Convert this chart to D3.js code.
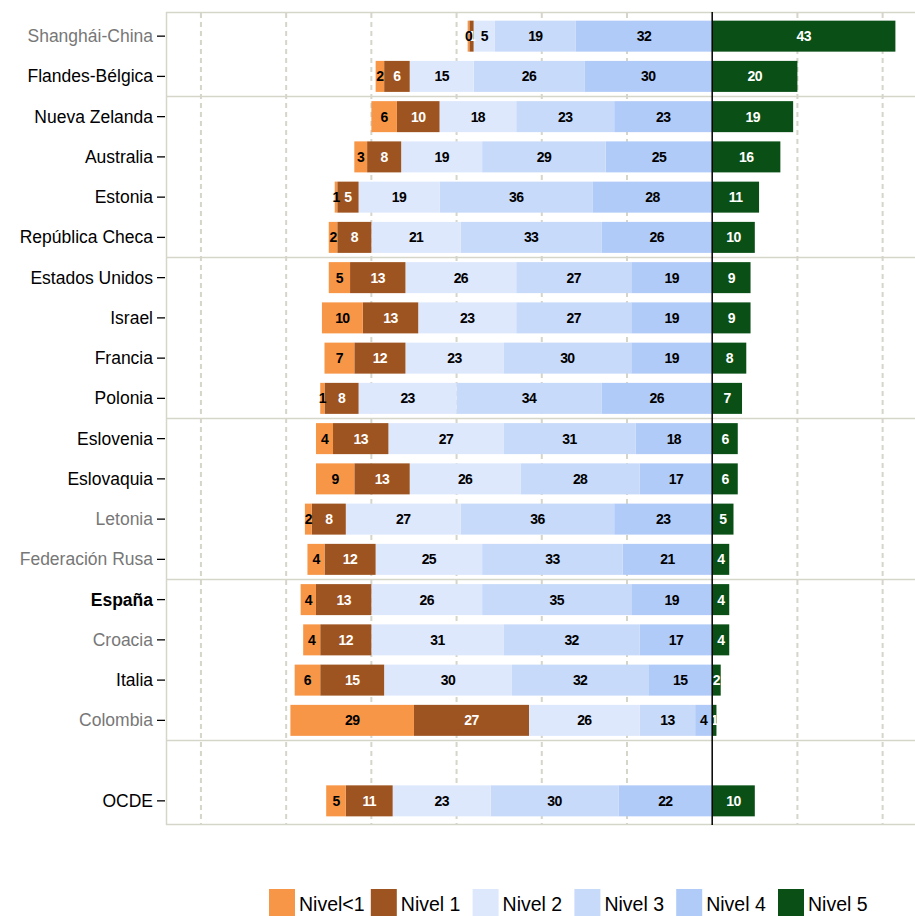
<!DOCTYPE html>
<html><head><meta charset="utf-8">
<script src="https://cdn.jsdelivr.net/npm/d3@7"></script>
<style>body{margin:0;background:#fff}svg{display:block}</style>
</head><body>
<script>
const countries = ["Shanghái-China","Flandes-Bélgica","Nueva Zelanda","Australia","Estonia","República Checa","Estados Unidos","Israel","Francia","Polonia","Eslovenia","Eslovaquia","Letonia","Federación Rusa","España","Croacia","Italia","Colombia","","OCDE"];
const nonOECD = ["Shanghái-China","Letonia","Federación Rusa","Croacia","Colombia"];
const highlight = ["España"];
const levels = ["Nivel<1","Nivel 1","Nivel 2","Nivel 3","Nivel 4","Nivel 5"];
const colors = ["#F79646","#9E5420","#DEE8FD","#C7DAFA","#B1CBF9","#0A5016"];
const labelColors = ["#000","#fff","#000","#000","#000","#fff"];
const nivelMenos1 = [0.4,2,6,3,0.6,2,5,9.6,7,1,4,9,1.6,4,3.6,4,6,29,null,4.6];
const nivel1 =      [1,6,10,8,5,8,13,13,12,8,13,13,8,12,13,12,15,27,null,11];
const nivel2 =      [5,15,18,19,19,21,26,23,23,23,27,26,27,25,26,31,30,26,null,23];
const nivel3 =      [19,26,23,29,36,33,27,27,30,34,31,28,36,33,35,32,32,13,null,30];
const nivel4 =      [32,30,23,25,28,26,19,19,19,26,18,17,23,21,19,17,15,4,null,22];
const nivel5 =      [43,20,19,16,11,10,9,9,8,7,6,6,5,4,4,4,2,1,null,10];
const separatorsAfter = ["Flandes-Bélgica","República Checa","Polonia","Federación Rusa","Colombia"];
const gridTicks = [-120,-100,-80,-60,-40,-20,20,40];

const W=915,H=916;
const svg=d3.select("body").append("svg").attr("width",W).attr("height",H);
const x=d3.scaleLinear().domain([-128.2,47.6]).range([166,915]);
const y=d3.scalePoint().domain(countries.map((c,i)=>i)).range([12,825]).padding(0.6);
const step=y.step();
const barH=31;
const grid="#D5D5CA";
const font="Liberation Sans, Arial, sans-serif";

svg.append("line").attr("x1",166).attr("x2",W).attr("y1",12.5).attr("y2",12.5).attr("stroke",grid).attr("stroke-width",1.5);
svg.append("line").attr("x1",166).attr("x2",W).attr("y1",824.5).attr("y2",824.5).attr("stroke",grid).attr("stroke-width",1.5);
svg.append("line").attr("x1",166.5).attr("x2",166.5).attr("y1",12).attr("y2",825).attr("stroke",grid).attr("stroke-width",1.5);
svg.selectAll("line.vg").data(gridTicks).join("line").attr("class","vg")
  .attr("x1",d=>x(d)).attr("x2",d=>x(d)).attr("y1",13).attr("y2",824)
  .attr("stroke",grid).attr("stroke-width",2).attr("stroke-dasharray","5,4");
svg.selectAll("line.sep").data(separatorsAfter).join("line").attr("class","sep")
  .attr("x1",166).attr("x2",W)
  .attr("y1",d=>y(countries.indexOf(d))+step/2).attr("y2",d=>y(countries.indexOf(d))+step/2)
  .attr("stroke",grid).attr("stroke-width",1.5);

const series=[nivelMenos1,nivel1,nivel2,nivel3,nivel4,nivel5];
const rows=[];
countries.forEach((c,i)=>{
  if(nivel5[i]==null) return;
  let left=0;
  const segs=[];
  for(let k=4;k>=0;k--){ const v=series[k][i]; segs.push({k,x0:left-v,x1:left,v}); left-=v; }
  segs.push({k:5,x0:0,x1:nivel5[i],v:nivel5[i]});
  segs.forEach(s=>rows.push(Object.assign({i},s)));
});
const g=svg.append("g");
g.selectAll("rect").data(rows).join("rect")
  .attr("x",d=>x(d.x0)).attr("width",d=>x(d.x1)-x(d.x0))
  .attr("y",d=>y(d.i)-barH/2).attr("height",barH)
  .attr("fill",d=>colors[d.k]);
g.selectAll("text").data(rows).join("text")
  .attr("x",d=>(x(d.x0)+x(d.x1))/2).attr("y",d=>y(d.i)+5)
  .attr("text-anchor","middle").attr("fill",d=>labelColors[d.k])
  .style("font-family",font).style("font-weight","bold").style("font-size","14px")
  .style("letter-spacing","-0.6px")
  .text(d=>Math.round(d.v));

svg.append("line").attr("x1",x(0)).attr("x2",x(0)).attr("y1",12).attr("y2",825).attr("stroke","#000").attr("stroke-width",1.5);

const lab=svg.append("g");
countries.forEach((c,i)=>{
  if(!c) return;
  lab.append("line").attr("x1",157).attr("x2",165).attr("y1",y(i)).attr("y2",y(i)).attr("stroke","#000").attr("stroke-width",1.3);
  lab.append("text").attr("x",153).attr("y",y(i)+6).attr("text-anchor","end")
    .style("font-family",font).style("font-size","17.5px")
    .style("font-weight",highlight.includes(c)?"bold":"normal")
    .attr("fill",nonOECD.includes(c)?"#777":"#000").text(c);
});

const leg=svg.append("g");
levels.forEach((l,k)=>{
  const lx=269+k*101.8;
  leg.append("rect").attr("x",lx).attr("y",889).attr("width",26).attr("height",27).attr("fill",colors[k]);
  leg.append("text").attr("x",lx+30).attr("y",911)
    .style("font-family",font).style("font-size","19.5px").attr("fill","#000").text(l);
});
</script>
</body></html>
